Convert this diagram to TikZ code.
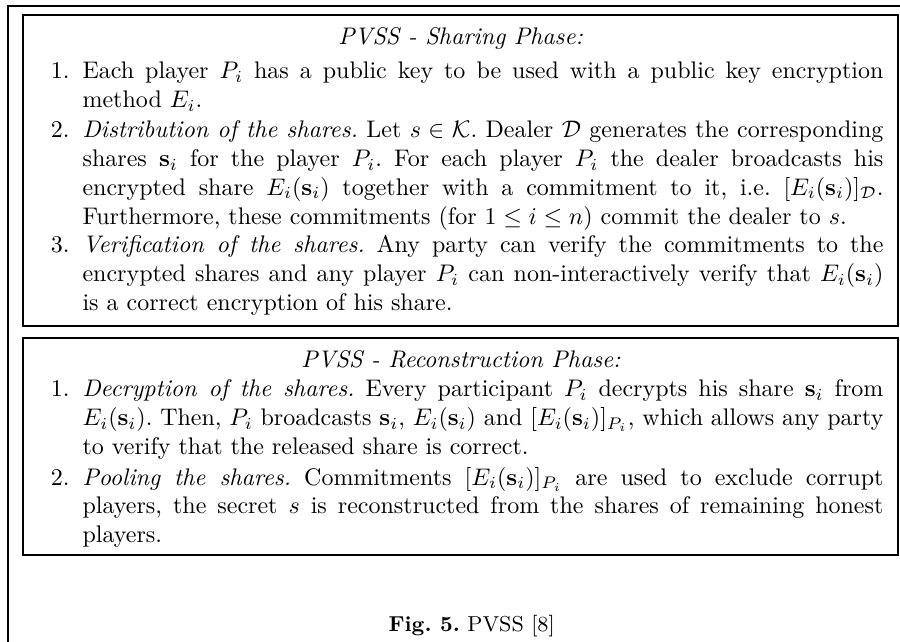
\documentclass[tikz,border=0pt]{standalone}
\usepackage{amsmath,amssymb}
\tikzset{
  frameline/.style={line width=0.55pt, draw=black},
  itemtext/.style={anchor=base west, inner sep=0pt, text width=333.7pt, align=justify, font=\normalsize\frenchspacing},
  itemnum/.style={anchor=base east, inner sep=0pt, font=\normalsize},
  phasetitle/.style={anchor=base west, inner sep=0pt, font=\normalsize\itshape},
}
\newcommand{\sv}{\mathbf{s}_i}
\begin{document}
\frenchspacing
\begin{tikzpicture}[x=1pt,y=1pt]
  \clip (0,0) rectangle (375,-267.5);
  \fill[white] (0,0) rectangle (375,-267.5);

  % outer figure frame (runs past the right and bottom edges)
  \draw[frameline] (3.33,-300) -- (3.33,-2.5) -- (400,-2.5);

  % sharing phase box
  \draw[frameline] (9.58,-6.25) rectangle (374.2,-135.8);
  \node[phasetitle] (t1) at (140.8,-18.75) {PVSS - Sharing Phase:};

  \node[itemnum] (n11) at (29.2,-32.9) {1.};
  \node[itemtext] (i11) at (34.2,-32.9) {Each player $P_i$ has a public key to be used with a public key encryption\linebreak method $E_i$.};

  \node[itemnum] (n12) at (29.2,-57.4) {2.};
  \node[itemtext] (i12) at (34.2,-57.4) {\emph{Distribution of the shares.} Let $s\in\mathcal{K}$. Dealer $\mathcal{D}$ generates the corresponding\linebreak shares $\sv$ for the player $P_i$. For each player $P_i$ the dealer broadcasts his\linebreak encrypted share $E_i(\sv)$ together with a commitment to it, i.e. $[E_i(\sv)]_{\mathcal{D}}$.\linebreak Furthermore, these commitments (for $1\le i\le n$) commit the dealer to $s$.};

  \node[itemnum] (n13) at (29.2,-105.4) {3.};
  \node[itemtext] (i13) at (34.2,-105.4) {\emph{Verification of the shares.} Any party can verify the commitments to the\linebreak encrypted shares and any player $P_i$ can non-interactively verify that $E_i(\sv)$\linebreak is a correct encryption of his share.};

  % reconstruction phase box
  \draw[frameline] (9.58,-140.8) rectangle (374.2,-231.25);
  \node[phasetitle] (t2) at (125.4,-153.3) {PVSS - Reconstruction Phase:};

  \node[itemnum] (n21) at (29.2,-165.4) {1.};
  \node[itemtext] (i21) at (34.2,-165.4) {\emph{Decryption of the shares.} Every participant $P_i$ decrypts his share $\sv$ from\linebreak $E_i(\sv)$. Then, $P_i$ broadcasts $\sv$, $E_i(\sv)$ and $[E_i(\sv)]_{P_i}$, which allows any party\linebreak to verify that the released share is correct.};

  \node[itemnum] (n22) at (29.2,-202.1) {2.};
  \node[itemtext] (i22) at (34.2,-202.1) {\emph{Pooling the shares.} Commitments $[E_i(\sv)]_{P_i}$ are used to exclude corrupt\linebreak players, the secret $s$ is reconstructed from the shares of remaining honest\linebreak players.};

  % caption
  \node[anchor=base west, inner sep=0pt, font=\small] (cap) at (161.7,-263) {\textbf{Fig. 5.} PVSS [8]};
\end{tikzpicture}
\end{document}
